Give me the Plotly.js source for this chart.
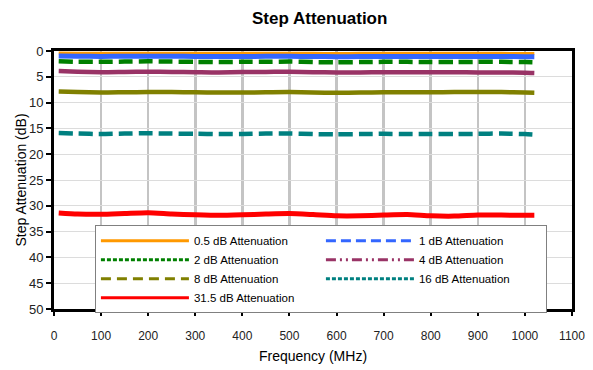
<!DOCTYPE html>
<html>
<head>
<meta charset="utf-8">
<script src="https://cdn.plot.ly/plotly-3.0.1.min.js"></script>
<style>html,body{margin:0;padding:0;background:#fff;}</style>
</head>
<body>
<div id="chart" style="width:593px;height:370px;"></div>
<script>
const freqMHz = [10, 50, 100, 150, 200, 250, 300, 350, 400, 450, 500, 550, 600, 650, 700, 750, 800, 850, 900, 950, 1000, 1020];

const att05 = [0.40, 0.42, 0.45, 0.43, 0.42, 0.43, 0.45, 0.46, 0.45, 0.44, 0.43, 0.45, 0.47, 0.46, 0.45, 0.45, 0.46, 0.46, 0.46, 0.46, 0.47, 0.48];
const att1  = [0.95, 1.00, 1.05, 1.02, 1.00, 1.02, 1.05, 1.07, 1.05, 1.04, 1.03, 1.06, 1.10, 1.08, 1.06, 1.06, 1.08, 1.09, 1.08, 1.08, 1.10, 1.12];
const att2  = [2.00, 2.10, 2.10, 2.05, 2.00, 2.05, 2.10, 2.15, 2.10, 2.10, 2.05, 2.15, 2.20, 2.15, 2.10, 2.10, 2.15, 2.15, 2.10, 2.10, 2.15, 2.20];
const att4  = [3.90, 4.00, 4.10, 4.05, 4.00, 4.05, 4.10, 4.15, 4.05, 4.05, 4.00, 4.10, 4.15, 4.15, 4.10, 4.10, 4.10, 4.10, 4.15, 4.15, 4.20, 4.25];
const att8  = [7.85, 7.95, 8.05, 8.00, 7.95, 7.95, 8.00, 8.05, 8.05, 8.00, 7.95, 8.05, 8.10, 8.05, 8.00, 8.00, 8.00, 7.95, 7.95, 7.95, 8.05, 8.10];
const att16 = [15.90, 16.00, 16.10, 16.00, 15.95, 16.00, 16.05, 16.10, 16.10, 16.00, 16.00, 16.10, 16.15, 16.10, 16.05, 16.10, 16.10, 16.10, 16.05, 16.00, 16.10, 16.20];
const att315 = [31.40, 31.60, 31.65, 31.50, 31.35, 31.60, 31.75, 31.85, 31.75, 31.60, 31.50, 31.70, 31.95, 31.95, 31.80, 31.70, 31.95, 32.00, 31.80, 31.80, 31.85, 31.85];

const seriesNames = ["0.5 dB Attenuation", "1 dB Attenuation", "2 dB Attenuation", "4 dB Attenuation", "8 dB Attenuation", "16 dB Attenuation", "31.5 dB Attenuation"];
const seriesData = [att05, att1, att2, att4, att8, att16, att315];
const colors = ["#ff9900", "#3366ff", "#008000", "#993366", "#808000", "#008080", "#ff0000"];
const plotWidths = [3, 5, 4.5, 4.5, 4.5, 4.5, 5];
const plotDash = ["solid", "solid", "14px,6px", "solid", "solid", "14px,6px", "solid"];
const legendDash = ["solid", "10px,5px", "4px,2px", "10px,4px,2px,4px,2px,4px", "10px,6px", "4px,2px", "solid"];

const traces = [];
seriesData.forEach((ys, i) => {
  traces.push({
    x: freqMHz, y: ys, type: "scatter", mode: "lines",
    name: seriesNames[i], showlegend: false, hoverinfo: "skip",
    line: {color: colors[i], width: plotWidths[i], dash: plotDash[i], shape: "spline", smoothing: 0.6}
  });
});
seriesData.forEach((ys, i) => {
  traces.push({
    x: [null], y: [null], type: "scatter", mode: "lines",
    name: seriesNames[i], showlegend: true,
    line: {color: colors[i], width: 3, dash: legendDash[i]}
  });
});

const font = "Liberation Sans, Arial, Helvetica, sans-serif";
const layout = {
  width: 593, height: 370,
  margin: {l: 54, r: 21, t: 51, b: 61},
  paper_bgcolor: "#fff", plot_bgcolor: "#fff",
  font: {family: font, color: "#000", size: 12},
  title: {text: "<b>Step Attenuation</b>", font: {size: 17, family: font, color: "#000"},
          x: 0.513, xanchor: "center", y: 0.952, yanchor: "middle", xref: "paper", yref: "container"},
  xaxis: {
    range: [0, 1100], dtick: 100, tick0: 0, automargin: false,
    showline: true, mirror: true, linecolor: "#000", linewidth: 3,
    showgrid: true, gridcolor: "#c4c4c4", gridwidth: 2.5, zeroline: false,
    ticks: "outside", ticklen: 4, tickwidth: 2, tickcolor: "#000",
    ticklabelstandoff: 10,
    tickfont: {size: 12, family: font, color: "#222"},
    title: {text: "Frequency (MHz)", font: {size: 14, family: font}, standoff: 9}
  },
  yaxis: {
    range: [50, 0], dtick: 5, tick0: 0, automargin: false,
    showline: true, mirror: true, linecolor: "#000", linewidth: 3,
    showgrid: true, gridcolor: "#dcdcdc", gridwidth: 1, zeroline: false,
    ticks: "outside", ticklen: 5, tickwidth: 2, tickcolor: "#000",
    tickfont: {size: 13, family: font, color: "#222"},
    title: {text: "Step Attenuation (dB)", font: {size: 14, family: font}, standoff: 0}
  },
  legend: {
    orientation: "h", x: 0.079, y: 0.325, xanchor: "left", yanchor: "top",
    bgcolor: "#fff", bordercolor: "#808080", borderwidth: 1,
    font: {size: 11.5, family: font, color: "#000"},
    entrywidth: 122, entrywidthmode: "pixels", itemwidth: 88,
    traceorder: "normal"
  },
  showlegend: true
};

Plotly.newPlot("chart", traces, layout, {displayModeBar: false, staticPlot: true});
</script>
</body>
</html>
